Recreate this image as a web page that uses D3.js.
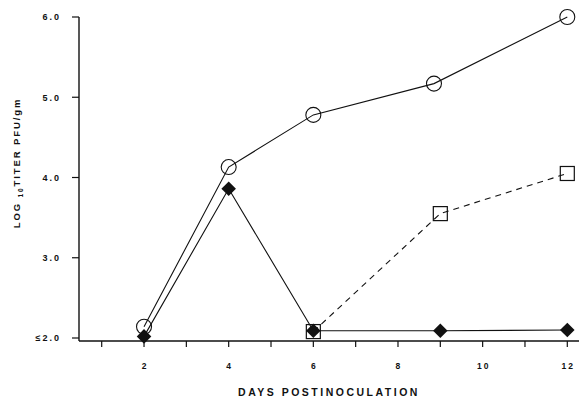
<!DOCTYPE html>
<html>
<head>
<meta charset="utf-8">
<script src="https://cdn.jsdelivr.net/npm/d3@7"></script>
<style>
  html, body { margin: 0; padding: 0; background: #fff; }
  svg { display: block; font-family: "Liberation Sans", Arial, sans-serif; }
  .tick-label { font-weight: bold; fill: #111; }
</style>
</head>
<body>
<svg id="chart" width="580" height="398"></svg>
<script>
// days postinoculation
const dayTicks = [1, 2, 3, 4, 5, 6, 7, 8, 9, 10, 11, 12]
const dayLabels = [2, 4, 6, 8, 10, 12]
const titerTicks = [2, 3, 4, 5, 6]
const titerLabels = ["\u22642.0", "3.0", "4.0", "5.0", "6.0"]

// open circles
const circleDays = [2, 4, 6, 8.85, 12]
const circleTiters = [2.14, 4.13, 4.78, 5.17, 6.0]
// open squares (dashed)
const squareDays = [6, 9, 12]
const squareTiters = [2.08, 3.55, 4.05]
// filled diamonds
const diamondDays = [2, 4, 6, 9, 12]
const diamondTiters = [2.02, 3.86, 2.09, 2.09, 2.1]

const zip = (xs, ys) => xs.map((d, i) => ({ day: d, titer: ys[i] }))

const svg = d3.select("#chart")

const x = d3.scaleLinear().domain([1, 12]).range([101.7, 567.3])
const y = d3.scaleLinear().domain([2, 6]).range([338, 17])
const axisY = 341
const axisX = 79

const line = d3.line().x(d => x(d.day)).y(d => y(d.titer))

// axes
svg.append("line")
  .attr("x1", axisX).attr("x2", axisX).attr("y1", y(6)).attr("y2", axisY)
  .attr("stroke", "#111").attr("stroke-width", 1.4)
svg.append("line")
  .attr("x1", axisX).attr("x2", 579).attr("y1", axisY).attr("y2", axisY)
  .attr("stroke", "#111").attr("stroke-width", 1.4)

svg.append("g").selectAll("line")
  .data(titerTicks).join("line")
  .attr("x1", axisX - 7).attr("x2", axisX)
  .attr("y1", d => y(d)).attr("y2", d => y(d))
  .attr("stroke", "#111").attr("stroke-width", 1.2)

svg.append("g").selectAll("text")
  .data(titerTicks).join("text")
  .attr("class", "tick-label")
  .attr("x", 61).attr("y", d => y(d) + 3.3)
  .attr("text-anchor", "end")
  .attr("font-size", 9)
  .attr("letter-spacing", 2)
  .text((d, i) => titerLabels[i])

svg.append("g").selectAll("line")
  .data(dayTicks).join("line")
  .attr("x1", d => x(d)).attr("x2", d => x(d))
  .attr("y1", axisY).attr("y2", axisY + 6)
  .attr("stroke", "#111").attr("stroke-width", 1.2)

svg.append("g").selectAll("text")
  .data(dayLabels).join("text")
  .attr("class", "tick-label")
  .attr("x", d => x(d) + 1).attr("y", 369)
  .attr("text-anchor", "middle")
  .attr("font-size", 8.5)
  .attr("letter-spacing", 2)
  .text(d => d)

// axis titles
svg.append("text")
  .attr("x", 329).attr("y", 396)
  .attr("text-anchor", "middle")
  .attr("font-size", 10.5).attr("font-weight", "bold")
  .attr("letter-spacing", 2.5)
  .attr("fill", "#111")
  .text("DAYS POSTINOCULATION")

const yTitle = svg.append("text")
  .attr("transform", "translate(20,163) rotate(-90)")
  .attr("text-anchor", "middle")
  .attr("font-size", 9.5).attr("font-weight", "bold")
  .attr("letter-spacing", 1.9)
  .attr("fill", "#111")
yTitle.append("tspan").text("LOG ")
yTitle.append("tspan").attr("font-size", 6.5).attr("dy", 3).text("10")
yTitle.append("tspan").attr("dy", -3).text("TITER  PFU/gm")

// series lines
svg.append("path").datum(zip(circleDays, circleTiters))
  .attr("d", line).attr("fill", "none").attr("stroke", "#111").attr("stroke-width", 1.1)
svg.append("path").datum(zip(diamondDays, diamondTiters))
  .attr("d", line).attr("fill", "none").attr("stroke", "#111").attr("stroke-width", 1.1)
svg.append("path").datum(zip(squareDays, squareTiters))
  .attr("d", line).attr("fill", "none").attr("stroke", "#111").attr("stroke-width", 1.1)
  .attr("stroke-dasharray", "6,5")

// markers
svg.append("g").selectAll("circle")
  .data(zip(circleDays, circleTiters)).join("circle")
  .attr("cx", d => x(d.day)).attr("cy", d => y(d.titer)).attr("r", 7.5)
  .attr("fill", "none").attr("stroke", "#111").attr("stroke-width", 1.1)

svg.append("g").selectAll("rect")
  .data(zip(squareDays, squareTiters)).join("rect")
  .attr("x", d => x(d.day) - 7).attr("y", d => y(d.titer) - 7)
  .attr("width", 14).attr("height", 14)
  .attr("fill", "none").attr("stroke", "#111").attr("stroke-width", 1.2)

const diamond = d3.symbol().type(d3.symbolDiamond2).size(135)
svg.append("g").selectAll("path")
  .data(zip(diamondDays, diamondTiters)).join("path")
  .attr("d", diamond)
  .attr("transform", d => `translate(${x(d.day)},${y(d.titer)})`)
  .attr("fill", "#111")
</script>
</body>
</html>
